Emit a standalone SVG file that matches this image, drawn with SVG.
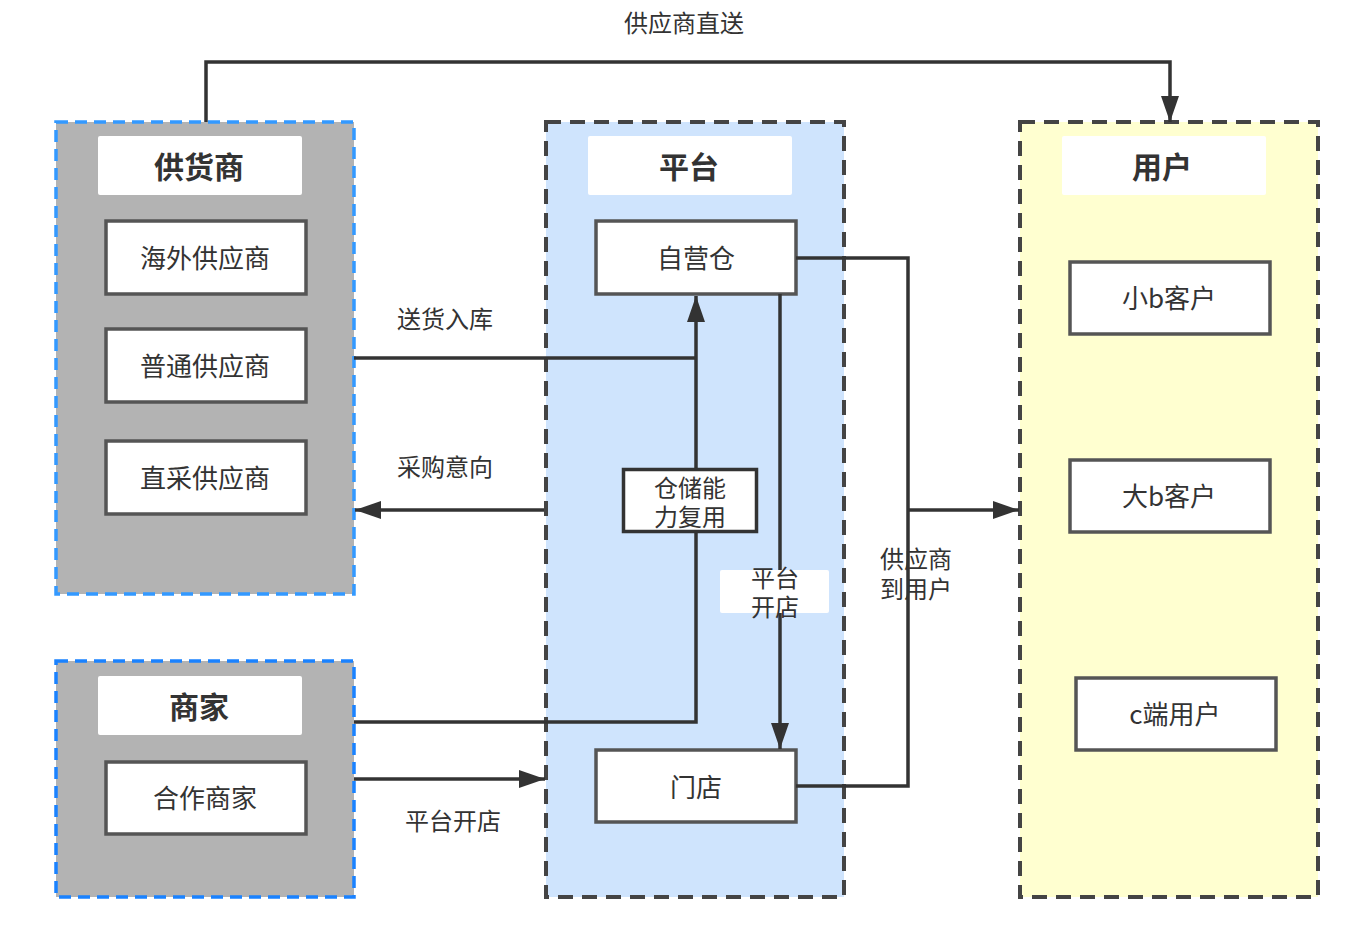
<svg xmlns="http://www.w3.org/2000/svg" width="1352" height="944" viewBox="0 0 1352 944">
<defs>
<marker id="ah" viewBox="0 0 26 20" refX="26" refY="10" markerWidth="26" markerHeight="20" markerUnits="userSpaceOnUse" orient="auto">
<path d="M0,1 L26,10 L0,19 z" fill="#333"/>
</marker>
<style>
text{font-family:"Noto Sans CJK SC","Liberation Sans",sans-serif;fill:#333;}
.t{font-size:26px;text-anchor:middle;}
.h{font-size:30px;font-weight:bold;text-anchor:middle;}
.l{font-size:24px;text-anchor:middle;}
.m{font-family:"Liberation Sans","Noto Sans CJK SC",sans-serif;}
.box{fill:#fff;stroke:#555;stroke-width:3.5;}
.title{fill:#fff;}
.cb{stroke:#3399ff;stroke-width:3.5;stroke-dasharray:12 7;}
.cd{stroke:#444;stroke-width:4;stroke-dasharray:15 9;}
.c{fill:none;stroke:#333;stroke-width:3.5;}
</style>
</defs>
<rect width="1352" height="944" fill="#fff"/>
<g id="supplier">
<rect x="56" y="122" width="298" height="472" fill="#b3b3b3" class="cb"/>
<rect x="98" y="136" width="204" height="59" rx="2" class="title"/>
<text x="199" y="178" class="h">供货商</text>
</g>
<g id="n-overseas"><rect x="106" y="221" width="200" height="73" class="box"/><text x="205" y="268" class="t">海外供应商</text></g>
<g id="n-normal"><rect x="106" y="329" width="200" height="73" class="box"/><text x="205" y="376" class="t">普通供应商</text></g>
<g id="n-direct"><rect x="106" y="441" width="200" height="73" class="box"/><text x="205" y="488" class="t">直采供应商</text></g>
<g id="merchant">
<rect x="56" y="661" width="298" height="236" fill="#b3b3b3" class="cb" style="stroke:#1a82ff"/>
<rect x="98" y="676" width="204" height="59" rx="2" class="title"/>
<text x="199" y="718" class="h">商家</text>
</g>
<g id="n-partner"><rect x="106" y="762" width="200" height="72" class="box"/><text x="205" y="808" class="t">合作商家</text></g>
<g id="platform">
<rect x="546" y="122" width="298" height="775" fill="#cfe4fd" class="cd"/>
<rect x="588" y="136" width="204" height="59" rx="2" class="title"/>
<text x="689" y="178" class="h">平台</text>
</g>
<g id="n-warehouse"><rect x="596" y="221" width="200" height="73" class="box"/><text x="696" y="268" class="t">自营仓</text></g>
<g id="n-store"><rect x="596" y="750" width="200" height="72" class="box"/><text x="696" y="797" class="t">门店</text></g>
<g id="user">
<rect x="1020" y="122" width="298" height="775" fill="#ffffd0" class="cd"/>
<rect x="1062" y="136" width="204" height="59" rx="2" class="title"/>
<text x="1162" y="178" class="h">用户</text>
</g>
<g id="n-smallb"><rect x="1070" y="262" width="200" height="72" class="box"/><text x="1169" y="308" class="t">小b客户</text></g>
<g id="n-bigb"><rect x="1070" y="460" width="200" height="72" class="box"/><text x="1169" y="506" class="t">大b客户</text></g>
<g id="n-c"><rect x="1076" y="678" width="200" height="72" class="box"/><text x="1175" y="724" class="t">c端用户</text></g>
<g id="connectors">
<path d="M206,122 V62 H1170 V122" class="c" marker-end="url(#ah)"/>
<path d="M354,358 H696" class="c"/>
<path d="M354,722 H696 V296" class="c" marker-end="url(#ah)"/>
<path d="M544,510 H355" class="c" marker-end="url(#ah)"/>
<path d="M354,779 H545" class="c" marker-end="url(#ah)"/>
<path d="M780,294 V749" class="c" marker-end="url(#ah)"/>
<path d="M796,258 H908 V786 H796" class="c"/>
<path d="M908,510 H1019" class="c" marker-end="url(#ah)"/>
<rect x="623.5" y="469.5" width="133" height="62" fill="#fff" stroke="#333" stroke-width="3.5"/>
<text x="690" y="497" class="l m"><tspan x="690">仓储能</tspan><tspan x="690" dy="29">力复用</tspan></text>
<rect x="720" y="570" width="109" height="43" rx="2" fill="#fff"/>
<text x="775" y="587" class="l m"><tspan x="775">平台</tspan><tspan x="775" dy="29">开店</tspan></text>
<text x="916" y="568" class="l m"><tspan x="916">供应商</tspan><tspan x="916" dy="30">到用户</tspan></text>
<text x="684" y="32" class="l">供应商直送</text>
<text x="445" y="328" class="l">送货入库</text>
<text x="445" y="476" class="l">采购意向</text>
<text x="453" y="830" class="l">平台开店</text>
</g>
</svg>
